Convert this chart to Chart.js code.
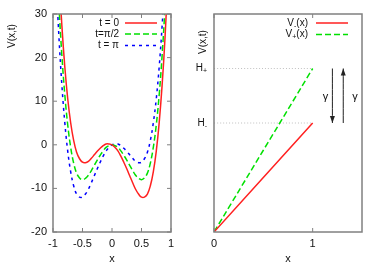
<!DOCTYPE html>
<html>
<head>
<meta charset="utf-8">
<script src="https://cdn.jsdelivr.net/npm/chart.js"></script>
<style>
body { margin: 0; background: #fff; }
.panel { position: absolute; top: 0; width: 191px; height: 267px; }
</style>
</head>
<body>
<div class="panel" style="left:0"><canvas id="left" width="191" height="267"></canvas></div>
<div class="panel" style="left:191px"><canvas id="right" width="191" height="267"></canvas></div>
<script>
// left panel: V(x,t) for three times
const xs = [-0.95, -0.9, -0.85, -0.8, -0.75, -0.7, -0.65, -0.6, -0.55, -0.5, -0.45, -0.4, -0.35, -0.3, -0.25, -0.2, -0.15, -0.1, -0.05, 0,
            0.05, 0.1, 0.15, 0.2, 0.25, 0.3, 0.35, 0.4, 0.45, 0.5, 0.55, 0.6, 0.65, 0.7, 0.75, 0.8, 0.85, 0.9, 0.95];
const vT0 = [54.1, 39.3, 27.4, 17.9, 10.5, 5.0, 1.0, -1.7, -3.2, -4.0, -4.1, -3.8, -3.1, -2.3, -1.5, -0.8, -0.2, 0.2, 0.2, 0,
             -0.6, -1.4, -2.6, -4.0, -5.5, -7.1, -8.7, -10.2, -11.3, -12.0, -12.0, -11.3, -9.4, -6.2, -1.5, 5.1, 13.8, 24.9, 38.9];
const vTHalf = [46.5, 32.1, 20.6, 11.5, 4.5, -0.6, -4.2, -6.5, -7.6, -8.0, -7.7, -7.0, -5.9, -4.7, -3.5, -2.4, -1.4, -0.6, -0.2, 0,
                -0.2, -0.6, -1.4, -2.4, -3.5, -4.7, -5.9, -7.0, -7.7, -8.0, -7.6, -6.5, -4.2, -0.6, 4.5, 11.5, 20.6, 32.1, 46.5];
const vTPi = [38.9, 24.9, 13.8, 5.1, -1.5, -6.2, -9.4, -11.3, -12.0, -12.0, -11.3, -10.2, -8.7, -7.1, -5.5, -4.0, -2.6, -1.4, -0.6, 0,
              0.2, 0.2, -0.2, -0.8, -1.5, -2.3, -3.1, -3.8, -4.1, -4.0, -3.2, -1.7, 1.0, 5.0, 10.5, 17.9, 27.4, 39.3, 54.1];
const leftLabels = ['t = 0', 't=\u03c0/2', 't = \u03c0'];

// right panel: V-(x), V+(x) and the two levels
const rx = [0, 1];
const vMinus = [0, 0.5];
const vPlus = [0, 0.75];
const hMinus = 0.5;
const hPlus = 0.75;
const arrowDownX = 1.2;
const arrowUpX = 1.31;
const gammaX = [1.13, 1.43];
const gammaY = 0.62;

const FONT = "'Liberation Sans', Arial, sans-serif";
Chart.defaults.font.family = FONT;
Chart.defaults.font.size = 11;
Chart.defaults.color = '#111';

const pts = (x, y) => x.map((v, i) => ({x: v, y: y[i]}));

function subText(ctx, parts, x, y, align) {
    // parts: [text, isSub]
    let w = 0;
    parts.forEach(p => { ctx.font = (p[1] ? '7px ' : '10px ') + FONT; w += ctx.measureText(p[0]).width; });
    let cx = align === 'right' ? x - w : (align === 'center' ? x - w / 2 : x);
    ctx.textAlign = 'left';
    ctx.textBaseline = 'middle';
    parts.forEach(p => {
        ctx.font = (p[1] ? '7px ' : '10px ') + FONT;
        ctx.fillText(p[0], cx, p[1] ? y + 3 : y);
        cx += ctx.measureText(p[0]).width;
    });
}

const frame = {
    id: 'frame',
    afterDatasetsDraw(chart, args, o) {
        const {ctx, chartArea: a, scales} = chart;
        ctx.save();
        ctx.strokeStyle = '#808080';
        ctx.lineWidth = 1;
        ctx.beginPath();
        scales.x.ticks.forEach(t => {
            const px = scales.x.getPixelForValue(t.value);
            ctx.moveTo(px, a.bottom); ctx.lineTo(px, a.bottom - 4);
            ctx.moveTo(px, a.top); ctx.lineTo(px, a.top + 4);
        });
        if (o.yTicks) scales.y.ticks.forEach(t => {
            const py = scales.y.getPixelForValue(t.value);
            ctx.moveTo(a.left, py); ctx.lineTo(a.left + 4, py);
            ctx.moveTo(a.right, py); ctx.lineTo(a.right - 4, py);
        });
        ctx.stroke();
        ctx.lineWidth = 1.5;
        ctx.strokeRect(a.left, a.top, a.right - a.left, a.bottom - a.top);

        // y title
        ctx.fillStyle = '#111';
        ctx.font = '10px ' + FONT;
        ctx.textAlign = 'center';
        ctx.textBaseline = 'middle';
        ctx.translate(o.titleX, o.titleY);
        ctx.rotate(-Math.PI / 2);
        ctx.fillText('V(x,t)', 0, 0);
        ctx.restore();

        // key
        ctx.save();
        o.key.forEach((k, i) => {
            const y = o.keyY[i];
            ctx.fillStyle = '#111';
            subText(ctx, k.parts, o.keyTextX, y, 'right');
            ctx.strokeStyle = k.color;
            ctx.lineWidth = 1.5;
            ctx.setLineDash(k.dash);
            ctx.beginPath();
            ctx.moveTo(o.keyLine[0], y); ctx.lineTo(o.keyLine[1], y);
            ctx.stroke();
        });
        ctx.restore();
    }
};

const marks = {
    id: 'marks',
    afterDatasetsDraw(chart) {
        if (chart.canvas.id !== 'right') return;
        const {ctx, scales: {x, y}, chartArea: a} = chart;
        ctx.save();
        ctx.fillStyle = '#111';
        subText(ctx, [['H', false], ['+', true]], a.left - 7, y.getPixelForValue(hPlus), 'right');
        subText(ctx, [['H', false], ['-', true]], a.left - 7, y.getPixelForValue(hMinus), 'right');
        // arrow heads
        ctx.fillStyle = '#222';
        chart.data.datasets.forEach(ds => {
            if (!ds.arrow) return;
            const p = ds.data[ds.data.length - 1];
            const q = ds.data[0];
            const px = x.getPixelForValue(p.x), py = y.getPixelForValue(p.y);
            const dir = y.getPixelForValue(q.y) > py ? 1 : -1;
            ctx.beginPath();
            ctx.moveTo(px, py);
            ctx.lineTo(px - 2.5, py + dir * 7);
            ctx.lineTo(px + 2.5, py + dir * 7);
            ctx.closePath();
            ctx.fill();
        });
        ctx.fillStyle = '#111';
        ctx.font = '11px ' + FONT;
        ctx.textAlign = 'center';
        ctx.textBaseline = 'middle';
        gammaX.forEach(g => ctx.fillText('\u03b3', x.getPixelForValue(g), y.getPixelForValue(gammaY)));
        ctx.restore();
    }
};

const lineDs = (data, color, dash, width) => ({
    data: data, borderColor: color, borderWidth: width || 1.5, borderDash: dash,
    pointRadius: 0, fill: false, tension: 0.4
});

const noGrid = {display: false, drawTicks: false};

new Chart(document.getElementById('left'), {
    type: 'line',
    data: {
        datasets: [
            lineDs(pts(xs, vT0), '#ff2020', []),
            lineDs(pts(xs, vTHalf), '#00e000', [6, 3]),
            lineDs(pts(xs, vTPi), '#0000ff', [3, 4])
        ]
    },
    options: {
        responsive: false,
        animation: false,
        layout: {padding: {top: 14, right: 20, left: 0, bottom: 0}},
        plugins: {
            legend: {display: false},
            tooltip: {enabled: false},
            frame: {
                yTicks: true, titleX: 12, titleY: 36,
                keyTextX: 119, keyLine: [125, 157], keyY: [23, 34, 45.5],
                key: [
                    {parts: [[leftLabels[0], false]], color: '#ff2020', dash: []},
                    {parts: [[leftLabels[1], false]], color: '#00e000', dash: [6, 3]},
                    {parts: [[leftLabels[2], false]], color: '#0000ff', dash: [3, 4]}
                ]
            }
        },
        scales: {
            x: {
                type: 'linear', min: -1, max: 1,
                ticks: {stepSize: 0.5, padding: 5, callback: v => String(v)},
                grid: noGrid,
                border: {display: false},
                title: {display: true, text: 'x', padding: {top: 0, bottom: 1}},
                afterFit: s => { s.height = 35; }
            },
            y: {
                min: -20, max: 30,
                ticks: {stepSize: 10, padding: 6},
                grid: noGrid,
                border: {display: false},
                afterFit: s => { s.width = 53; }
            }
        }
    },
    plugins: [frame]
});

new Chart(document.getElementById('right'), {
    type: 'line',
    data: {
        datasets: [
            lineDs(pts(rx, vMinus), '#ff2020', []),
            lineDs(pts(rx, vPlus), '#00e000', [6, 3]),
            lineDs(pts(rx, [hPlus, hPlus]), '#c0c0c0', [1, 2], 1),
            lineDs(pts(rx, [hMinus, hMinus]), '#c0c0c0', [1, 2], 1),
            Object.assign(lineDs([{x: arrowDownX, y: hPlus}, {x: arrowDownX, y: hMinus}], '#222', [], 1), {arrow: true}),
            Object.assign(lineDs([{x: arrowUpX, y: hMinus}, {x: arrowUpX, y: hPlus}], '#222', [], 1), {arrow: true})
        ]
    },
    options: {
        responsive: false,
        animation: false,
        layout: {padding: {top: 14, right: 20, left: 0, bottom: 0}},
        plugins: {
            legend: {display: false},
            tooltip: {enabled: false},
            frame: {
                yTicks: false, titleX: 12, titleY: 42,
                keyTextX: 117, keyLine: [125, 157], keyY: [23, 34.5],
                key: [
                    {parts: [['V', false], ['-', true], ['(x)', false]], color: '#ff2020', dash: []},
                    {parts: [['V', false], ['+', true], ['(x)', false]], color: '#00e000', dash: [6, 3]}
                ]
            }
        },
        scales: {
            x: {
                type: 'linear', min: 0, max: 1.5,
                afterBuildTicks: s => { s.ticks = rx.map(v => ({value: v})); },
                ticks: {padding: 5, callback: v => String(v)},
                grid: noGrid,
                border: {display: false},
                title: {display: true, text: 'x', padding: {top: 0, bottom: 1}},
                afterFit: s => { s.height = 35; }
            },
            y: {
                min: 0, max: 1,
                ticks: {display: false},
                grid: noGrid,
                border: {display: false},
                afterFit: s => { s.width = 23; }
            }
        }
    },
    plugins: [frame, marks]
});
</script>
</body>
</html>
